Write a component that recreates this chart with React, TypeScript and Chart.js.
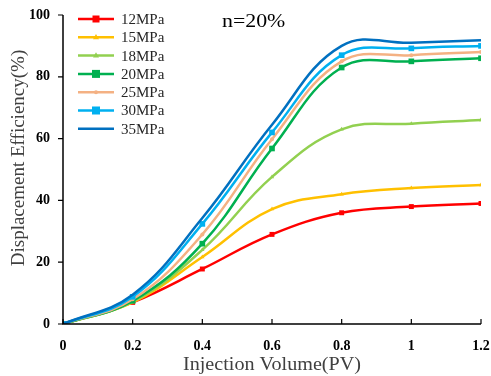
import React, { useEffect, useRef } from "react";
import { Chart, registerables } from "chart.js";

Chart.register(...registerables);

const xValues = [0, 0.2, 0.4, 0.6, 0.8, 1.0, 1.2];
const xTickLabels = ["0", "0.2", "0.4", "0.6", "0.8", "1", "1.2"];
const seriesNames = ["12MPa", "15MPa", "18MPa", "20MPa", "25MPa", "30MPa", "35MPa"];
const s12 = [0, 7, 17.8, 29, 36, 38, 39];
const s15 = [0, 7, 21.7, 37.2, 42, 44, 45];
const s18 = [0, 7.2, 24, 47.6, 63, 64.8, 66];
const s20 = [0, 7.5, 26, 56.8, 83, 85, 86];
const s25 = [0, 8, 29, 59.8, 85, 87, 88];
const s30 = [0, 8.8, 32.4, 62, 87, 89.2, 90];
const s35 = [0, 9.5, 34.3, 64.5, 90, 91, 91.8];
const seriesValues = [s12, s15, s18, s20, s25, s30, s35];
const colors = ["#FF0000", "#FFC000", "#92D050", "#00B050", "#F4B183", "#00B0F0", "#0070C0"];
const pointStyles = ["rect", "triangle", "triangle", "rect", "circle", "rect", "circle"];
const pointRadii = [3.5, 2.5, 2.5, 4, 2, 4, 0];
const annotation = "n=20%";
const xTitle = "Injection Volume(PV)";
const yTitle = "Displacement Efficiency(%)";

const serif = "'Liberation Serif', 'Times New Roman', serif";

const axesPlugin = {
  id: "customAxes",
  afterDraw(chart: any) {
    const ctx = chart.ctx;
    const { left, right, top, bottom } = chart.chartArea;
    const xs = chart.scales.x;
    const ys = chart.scales.y;
    ctx.save();
    ctx.strokeStyle = "#000";
    ctx.lineWidth = 1.5;
    ctx.beginPath();
    ctx.moveTo(left, top);
    ctx.lineTo(left, bottom);
    ctx.lineTo(right, bottom);
    ctx.stroke();
    ctx.lineWidth = 1.2;
    ctx.beginPath();
    xValues.forEach((v) => {
      const px = xs.getPixelForValue(v);
      ctx.moveTo(px, bottom);
      ctx.lineTo(px, bottom - 5);
    });
    for (let v = 0; v <= 100; v += 20) {
      const py = ys.getPixelForValue(v);
      ctx.moveTo(left, py);
      ctx.lineTo(left - 5, py);
    }
    ctx.stroke();

    // axis titles
    ctx.fillStyle = "#404040";
    ctx.textAlign = "center";
    ctx.textBaseline = "middle";
    ctx.save();
    ctx.font = `19px ${serif}`;
    ctx.translate((left + right) / 2, 365);
    ctx.scale(1.06, 1);
    ctx.fillText(xTitle, 0, 0);
    ctx.restore();
    ctx.save();
    ctx.font = `19px ${serif}`;
    ctx.translate(19, 158);
    ctx.rotate(-Math.PI / 2);
    ctx.fillText(yTitle, 0, 0);
    ctx.restore();

    // annotation
    ctx.save();
    ctx.fillStyle = "#000";
    ctx.font = `19px ${serif}`;
    ctx.textAlign = "left";
    ctx.translate(222, 22);
    ctx.scale(1.15, 1);
    ctx.fillText(annotation, 0, 0);
    ctx.restore();

    // legend
    const datasets = chart.data.datasets;
    datasets.forEach((ds: any, i: number) => {
      const y = 19 + i * 18.3;
      ctx.strokeStyle = ds.borderColor;
      ctx.lineWidth = 2.5;
      ctx.beginPath();
      ctx.moveTo(78, y);
      ctx.lineTo(114, y);
      ctx.stroke();
      if (ds.pointRadius > 0) {
        ctx.fillStyle = ds.borderColor;
        const r = ds.pointRadius;
        if (ds.pointStyle === "rect") {
          ctx.fillRect(96 - r, y - r, 2 * r, 2 * r);
        } else if (ds.pointStyle === "triangle") {
          ctx.beginPath();
          ctx.moveTo(96, y - r * 1.3);
          ctx.lineTo(96 + r * 1.2, y + r * 0.8);
          ctx.lineTo(96 - r * 1.2, y + r * 0.8);
          ctx.closePath();
          ctx.fill();
        } else {
          ctx.beginPath();
          ctx.arc(96, y, r, 0, Math.PI * 2);
          ctx.fill();
        }
      }
      ctx.fillStyle = "#262626";
      ctx.font = `15px ${serif}`;
      ctx.textAlign = "left";
      ctx.textBaseline = "middle";
      ctx.fillText(ds.label, 121, y + 1);
    });
    ctx.restore();
  },
};

export default function App() {
  const ref = useRef<HTMLCanvasElement | null>(null);
  useEffect(() => {
    if (!ref.current) return;
    const chart = new Chart(ref.current, {
      type: "line",
      data: {
        datasets: seriesNames.map((name, i) => ({
          label: name,
          data: xValues.map((x, j) => ({ x, y: seriesValues[i][j] })),
          borderColor: colors[i],
          backgroundColor: colors[i],
          borderWidth: 2.5,
          pointStyle: pointStyles[i],
          pointRadius: pointRadii[i],
          pointBorderWidth: 0,
          tension: 0.4,
          fill: false,
          order: 6 - i,
        })),
      },
      options: {
        animation: false,
        responsive: false,
        layout: { padding: { top: 15, right: 10, left: 0, bottom: 0 } },
        plugins: { legend: { display: false }, tooltip: { enabled: false } },
        scales: {
          x: {
            type: "linear",
            min: 0,
            max: 1.2,
            afterBuildTicks: (scale: any) => {
              scale.ticks = xValues.map((v) => ({ value: v }));
            },
            afterFit: (scale: any) => {
              scale.height = 52;
              scale.paddingLeft = 0;
              scale.paddingRight = 0;
            },
            ticks: {
              callback: (_v: any, idx: number) => xTickLabels[idx],
              font: { family: serif, size: 14, weight: "bold" },
              color: "#000",
              padding: 14,
              maxRotation: 0,
            },
            grid: { display: false, drawTicks: false },
            border: { display: false },
          },
          y: {
            min: 0,
            max: 100,
            ticks: {
              stepSize: 20,
              font: { family: serif, size: 14, weight: "bold" },
              color: "#000",
              padding: 13,
            },
            afterFit: (scale: any) => {
              scale.width = 63;
              scale.paddingTop = 0;
              scale.paddingBottom = 0;
            },
            grid: { display: false, drawTicks: false },
            border: { display: false },
          },
        },
      },
      plugins: [axesPlugin],
    } as any);
    return () => chart.destroy();
  }, []);
  return (
    <div style={{ position: "fixed", left: 0, top: 0, width: 491, height: 376, background: "#fff" }}>
      <canvas ref={ref} width={491} height={376} />
    </div>
  );
}
